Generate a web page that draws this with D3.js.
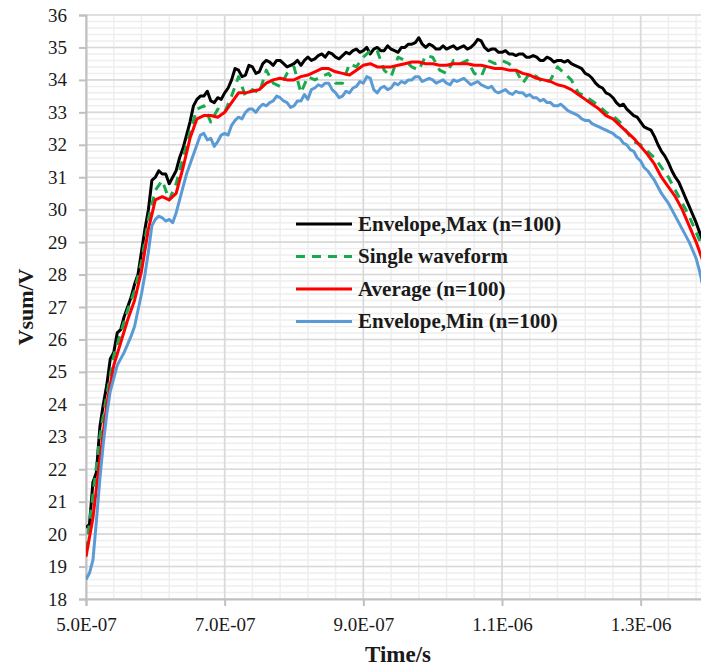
<!DOCTYPE html>
<html>
<head>
<meta charset="utf-8">
<script src="https://cdn.jsdelivr.net/npm/d3@7/dist/d3.min.js"></script>
<style>
  html, body { margin: 0; padding: 0; background: #fff; }
  svg { display: block; }
  text { font-family: "Liberation Serif", "Times New Roman", serif; fill: #1a1a1a; }
</style>
</head>
<body>
<svg id="chart" width="701" height="666"></svg>
<script>
// Sample times in nanoseconds: 5 ns records for the envelopes, 10 ns for the others
const timeFine = [
  500,505,510,515,520,525,530,535,540,545,550,555,560,565,570,575,580,585,590,595,
  600,605,610,615,620,625,630,635,640,645,650,655,660,665,670,675,680,685,690,695,
  700,705,710,715,720,725,730,735,740,745,750,755,760,765,770,775,780,785,790,795,
  800,805,810,815,820,825,830,835,840,845,850,855,860,865,870,875,880,885,890,895,
  900,905,910,915,920,925,930,935,940,945,950,955,960,965,970,975,980,985,990,995,
  1000,1005,1010,1015,1020,1025,1030,1035,1040,1045,1050,1055,1060,1065,1070,1075,1080,1085,1090,1095,
  1100,1105,1110,1115,1120,1125,1130,1135,1140,1145,1150,1155,1160,1165,1170,1175,1180,1185,1190,1195,
  1200,1205,1210,1215,1220,1225,1230,1235,1240,1245,1250,1255,1260,1265,1270,1275,1280,1285,1290,1295,
  1300,1305,1310,1315,1320,1325,1330,1335,1340,1345,1350,1355,1360,1365,1370,1375,1380,1385,1390
];
const timeCoarse = [
  500,510,520,530,540,550,560,570,580,590,
  600,610,620,630,640,650,660,670,680,690,
  700,710,720,730,740,750,760,770,780,790,
  800,810,820,830,840,850,860,870,880,890,
  900,910,920,930,940,950,960,970,980,990,
  1000,1010,1020,1030,1040,1050,1060,1070,1080,1090,
  1100,1110,1120,1130,1140,1150,1160,1170,1180,1190,
  1200,1210,1220,1230,1240,1250,1260,1270,1280,1290,
  1300,1310,1320,1330,1340,1350,1360,1370,1380,1390
];

// Envelope, Max (n=100) — 5 ns records
const envMax = [
  20.2,20.3,21.6,21.9,23.3,24.0,24.6,25.4,25.6,26.2,26.3,26.7,27.0,27.3,27.7,28.0,28.7,29.4,30.0,30.9,
  31.0,31.2,31.1,31.1,30.8,31.0,31.2,31.6,31.9,32.3,32.7,33.2,33.4,33.5,33.5,33.65,33.35,33.3,33.45,33.4,
  33.6,33.75,34.0,34.35,34.3,34.1,34.15,34.45,34.4,34.2,34.25,34.5,34.6,34.55,34.45,34.6,34.6,34.5,34.4,34.45,
  34.5,34.6,34.45,34.6,34.7,34.6,34.65,34.75,34.8,34.7,34.85,34.8,34.7,34.65,34.75,34.85,34.8,34.9,34.95,34.85,
  34.9,35.0,34.8,34.95,35.0,34.9,34.9,35.05,34.95,34.9,34.85,35.0,35.0,35.1,35.1,35.15,35.3,35.1,35.0,35.1,
  35.05,34.95,34.95,35.05,34.95,35.0,35.05,34.95,35.0,35.05,34.95,35.0,35.1,35.25,35.2,35.0,34.9,34.95,34.95,34.85,
  34.85,34.9,34.8,34.8,34.75,34.8,34.8,34.7,34.7,34.75,34.7,34.6,34.6,34.7,34.65,34.55,34.6,34.6,34.55,34.6,
  34.5,34.45,34.4,34.35,34.2,34.15,34.05,33.9,33.8,33.75,33.6,33.55,33.45,33.3,33.2,33.25,33.1,33.0,32.9,32.85,
  32.7,32.55,32.5,32.45,32.25,32.0,31.8,31.65,31.45,31.2,31.0,30.85,30.6,30.35,30.1,29.85,29.6,29.3,29.0
];

// Single waveform — 10 ns records
const single = [
  19.5,21.2,23.0,24.3,25.5,26.2,26.9,27.5,28.4,29.7,
  30.6,30.9,30.3,30.8,31.6,32.4,33.1,33.2,32.7,33.1,
  33.0,33.5,34.1,33.5,33.7,33.6,34.3,33.9,33.8,34.2,
  34.4,33.6,34.1,34.0,34.1,34.2,33.9,33.9,34.5,34.4,
  34.7,34.9,34.9,34.3,34.1,34.7,34.6,34.4,34.3,34.75,
  34.7,34.3,34.2,34.6,34.5,34.6,34.2,34.1,34.6,34.5,
  34.6,34.5,34.3,33.9,34.2,34.1,33.9,34.0,34.4,34.2,
  34.0,33.6,33.5,33.35,33.2,33.0,32.9,32.7,32.4,32.1,
  32.0,31.8,31.6,31.3,31.0,30.6,30.2,29.8,29.3,28.8
];

// Average (n=100) — 10 ns records
const average = [
  19.3,20.5,22.3,24.0,25.2,25.9,26.6,27.2,28.1,29.4,
  30.3,30.4,30.3,30.5,31.3,32.2,32.8,32.9,32.9,32.85,
  33.0,33.3,33.6,33.6,33.65,33.7,33.9,34.0,34.05,34.0,
  34.0,34.1,34.15,34.25,34.35,34.35,34.25,34.2,34.15,34.3,
  34.45,34.5,34.4,34.4,34.4,34.45,34.5,34.55,34.55,34.5,
  34.5,34.45,34.45,34.5,34.5,34.5,34.45,34.45,34.4,34.35,
  34.35,34.3,34.3,34.2,34.15,34.05,34.0,33.95,33.85,33.8,
  33.7,33.55,33.4,33.25,33.1,32.9,32.8,32.6,32.4,32.2,
  31.95,31.7,31.4,31.0,30.7,30.4,30.0,29.5,29.0,28.4
];

// Envelope, Min (n=100) — 5 ns records
const envMin = [
  18.6,18.8,19.2,20.4,21.7,22.8,23.7,24.4,24.8,25.2,25.4,25.6,25.85,26.1,26.4,26.9,27.4,28.0,28.7,29.5,
  29.7,29.8,29.75,29.65,29.7,29.6,29.9,30.3,30.7,31.1,31.4,31.7,32.0,32.3,32.35,32.15,32.2,31.95,32.1,32.3,
  32.35,32.3,32.6,32.75,32.85,32.8,33.0,33.1,33.1,33.0,33.15,33.25,33.2,33.3,33.35,33.5,33.45,33.35,33.3,33.15,
  33.2,33.35,33.35,33.55,33.4,33.7,33.75,33.85,33.8,33.9,33.9,33.7,33.6,33.45,33.5,33.65,33.6,33.75,33.8,33.95,
  33.9,34.1,34.05,33.7,33.6,33.75,33.8,33.7,33.75,33.9,33.85,33.95,33.9,34.0,34.0,34.1,34.1,33.95,34.0,34.05,
  34.0,33.9,33.95,34.0,33.9,33.85,34.0,33.95,34.0,34.05,33.95,33.85,33.9,33.95,33.85,33.8,33.75,33.8,33.65,33.6,
  33.65,33.7,33.6,33.55,33.65,33.6,33.6,33.5,33.55,33.45,33.45,33.35,33.4,33.3,33.3,33.2,33.2,33.25,33.15,33.05,
  33.0,32.95,32.9,32.8,32.75,32.75,32.65,32.6,32.55,32.5,32.45,32.4,32.35,32.25,32.2,32.05,32.0,31.85,31.8,31.6,
  31.5,31.3,31.2,31.05,30.9,30.7,30.5,30.35,30.2,30.0,29.8,29.6,29.4,29.2,29.0,28.75,28.5,28.1,27.6
];

const xTickValues = [500, 700, 900, 1100, 1300];
const xTickLabels = ["5.0E-07", "7.0E-07", "9.0E-07", "1.1E-06", "1.3E-06"];
const yTickValues = [18,19,20,21,22,23,24,25,26,27,28,29,30,31,32,33,34,35,36];

const legendNames = ["Envelope,Max (n=100)", "Single waveform", "Average (n=100)", "Envelope,Min (n=100)"];

const seriesList = [
  { name: legendNames[0], times: timeFine,   values: envMax,  color: "#000000", width: 3,   dash: null },
  { name: legendNames[1], times: timeCoarse, values: single,  color: "#1aaa4e", width: 3,   dash: "9,7" },
  { name: legendNames[2], times: timeCoarse, values: average, color: "#ff0000", width: 3,   dash: null },
  { name: legendNames[3], times: timeFine,   values: envMin,  color: "#5b9bd5", width: 3,   dash: null }
];

const svg = d3.select("#chart");
const plot = { left: 86, top: 15, right: 710, bottom: 599 };

const x = d3.scaleLinear().domain([500, 1400]).range([plot.left, plot.right]);
const y = d3.scaleLinear().domain([18, 36]).range([plot.bottom, plot.top]);

// Grid: minor lines every fifth of a major step, then major lines
const grid = svg.append("g");
const minorX = d3.range(500, 1400.001, 40);
const minorY = d3.range(18, 36.001, 0.2);
grid.selectAll("line.minor-h").data(minorY).join("line")
  .attr("x1", plot.left).attr("x2", plot.right)
  .attr("y1", d => y(d)).attr("y2", d => y(d))
  .attr("stroke", "#eeeeee").attr("stroke-width", 1.5);
grid.selectAll("line.minor-v").data(minorX).join("line")
  .attr("y1", plot.top).attr("y2", plot.bottom)
  .attr("x1", d => x(d)).attr("x2", d => x(d))
  .attr("stroke", "#eeeeee").attr("stroke-width", 1.5);
grid.selectAll("line.major-h").data(yTickValues).join("line")
  .attr("x1", plot.left).attr("x2", plot.right)
  .attr("y1", d => y(d)).attr("y2", d => y(d))
  .attr("stroke", "#d9d9d9").attr("stroke-width", 1.6);
grid.selectAll("line.major-v").data(d3.range(500, 1400.001, 200)).join("line")
  .attr("y1", plot.top).attr("y2", plot.bottom)
  .attr("x1", d => x(d)).attr("x2", d => x(d))
  .attr("stroke", "#d9d9d9").attr("stroke-width", 1.6);

// Axes
const yAxis = svg.append("g")
  .attr("transform", `translate(${plot.left},0)`)
  .call(d3.axisLeft(y).tickValues(yTickValues).tickFormat(d3.format("d")).tickSize(7).tickPadding(12));
const xAxis = svg.append("g")
  .attr("transform", `translate(0,${plot.bottom})`)
  .call(d3.axisBottom(x).tickValues(xTickValues).tickFormat((d, i) => xTickLabels[i]).tickSize(7).tickPadding(11.5));
[yAxis, xAxis].forEach(g => {
  g.select(".domain").attr("stroke", "#c0c0c0").attr("stroke-width", 2);
  g.selectAll(".tick line").attr("stroke", "#c0c0c0").attr("stroke-width", 2);
  g.selectAll(".tick text").attr("font-size", 19).attr("font-family", "Liberation Serif, serif").attr("fill", "#1a1a1a");
});

// Series
svg.append("clipPath").attr("id", "plot-clip").append("rect")
  .attr("x", plot.left).attr("y", plot.top - 5)
  .attr("width", plot.right - plot.left).attr("height", plot.bottom - plot.top + 5);

const lines = svg.append("g").attr("clip-path", "url(#plot-clip)");
seriesList.forEach(s => {
  const line = d3.line()
    .x((d, i) => x(s.times[i]))
    .y(d => y(d));
  lines.append("path")
    .datum(s.values)
    .attr("d", line)
    .attr("fill", "none")
    .attr("stroke", s.color)
    .attr("stroke-width", s.width)
    .attr("stroke-linejoin", "round")
    .attr("stroke-dasharray", s.dash);
});

// Legend
const legend = svg.append("g").attr("transform", "translate(296,224)");
seriesList.forEach((s, i) => {
  const row = legend.append("g").attr("transform", `translate(0,${i * 32.5})`);
  row.append("line")
    .attr("x1", 0).attr("x2", 56).attr("y1", 0).attr("y2", 0)
    .attr("stroke", s.color).attr("stroke-width", 3.2)
    .attr("stroke-dasharray", s.dash);
  row.append("text")
    .attr("x", 62).attr("y", 6.5)
    .attr("font-size", 21).attr("font-weight", "bold")
    .text(s.name);
});

// Axis titles
svg.append("text")
  .attr("x", (plot.left + plot.right) / 2).attr("y", 662)
  .attr("text-anchor", "middle")
  .attr("font-size", 23).attr("font-weight", "bold")
  .text("Time/s");
svg.append("text")
  .attr("transform", `translate(33,${(plot.top + plot.bottom) / 2}) rotate(-90)`)
  .attr("text-anchor", "middle")
  .attr("font-size", 22).attr("font-weight", "bold")
  .text("Vsum/V");
</script>
</body>
</html>
